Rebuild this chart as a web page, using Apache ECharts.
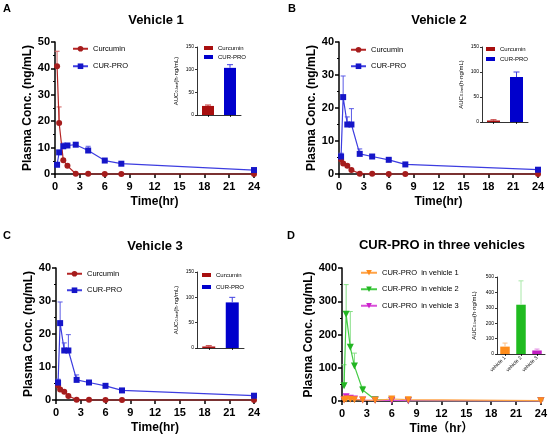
<!DOCTYPE html>
<html><head><meta charset="utf-8">
<script src="https://cdn.jsdelivr.net/npm/echarts@6/dist/echarts.min.js"></script>
<style>html,body{margin:0;padding:0;background:#fff}#c{width:550px;height:441px}</style>
</head><body><div id="c"></div>
<script>
// ---------- data ----------
const times = [0.25, 0.5, 1, 1.5, 2.5, 4, 6, 8, 24];

const curA    = [40.8, 19.3, 5.2, 3.1, 0.1, 0.05, 0, 0, 0];
const curAErr = [5.7, 6.1, 0.5, 0.4, 0.1, 0, 0, 0, 0];
const proA    = [3.5, 8.2, 10.5, 10.8, 11.1, 8.9, 5.1, 3.9, 1.5];
const proAErr = [0.5, 0.6, 1.2, 0.5, 0.5, 1.6, 0.4, 0.4, 0.3];

const curB    = [4.4, 3.2, 2.5, 1.2, 0.1, 0.05, 0, 0, 0];
const curBErr = [0.6, 0.4, 0.4, 0.3, 0.1, 0, 0, 0, 0];
const proB    = [5.3, 23.3, 15.0, 15.0, 6.1, 5.3, 4.3, 2.9, 1.3];
const proBErr = [1.0, 6.4, 2.3, 4.8, 1.5, 0.5, 0.4, 0.3, 0.2];

const curC    = [4.4, 3.2, 2.5, 1.2, 0.1, 0.05, 0, 0, 0];
const curCErr = [0.6, 0.4, 0.4, 0.3, 0.1, 0, 0, 0, 0];
const proC    = [5.3, 23.3, 15.0, 15.0, 6.1, 5.3, 4.3, 2.9, 1.3];
const proCErr = [1.0, 6.4, 2.3, 4.8, 1.5, 0.5, 0.4, 0.3, 0.2];

const v1D    = [3, 6, 5, 4, 3, 2, 6, 4, 1];
const v1DErr = [2, 3, 2, 2, 1, 1, 5, 2, 1];
const v2D    = [46, 261, 162, 105, 33, 4, 2, 1, 0.5];
const v2DErr = [63, 89, 107, 39, 11, 2, 1, 0.5, 0.2];
const v3D    = [4, 13, 8, 6, 3, 2, 1.5, 1, 0.5];
const v3DErr = [2, 4, 3, 2, 1, 1, 0.5, 0.3, 0.2];

const aucCats  = ['Curcumin', 'CUR-PRO'];
const aucA     = [20, 104];
const aucAErr  = [2, 7];
const aucB     = [3, 90];
const aucBErr  = [1.5, 10];
const aucC     = [3, 90];
const aucCErr  = [1.5, 10];
const aucDCats = ['vehicle 1', 'vehicle 2', 'vehicle 3'];
const aucD     = [48, 320, 23];
const aucDErr  = [23, 155, 9];

const xTickInterval = 3;

// ---------- style helpers ----------
const FONT = '"Liberation Sans", Arial, Helvetica, "Noto Sans CJK SC", sans-serif';
const RED = '#A51C1C', RED_L = '#B52525', RED_E = '#D06060';
const BLUE = '#1515C8', BLUE_L = '#3D3DE0', BLUE_E = '#5A5AE6';
const OR = '#FF8C1A', OR_L = '#FFA347', OR_E = '#FFBE80';
const GR = '#22B522', GR_L = '#45CC45', GR_E = '#86DE86';
const MG = '#CC22CC', MG_L = '#D94FD9', MG_E = '#E38AE3';

function mainX(gi, name) {
  return {type:'value', gridIndex:gi, min:0, max:24, interval:xTickInterval,
    name, nameLocation:'middle', nameGap:22,
    nameTextStyle:{fontFamily:FONT, fontWeight:'bold', fontSize:12, color:'#000'},
    axisLine:{show:true, onZero:false, lineStyle:{color:'#000', width:1.5}},
    axisTick:{show:true, length:4, lineStyle:{color:'#000', width:1.5}},
    axisLabel:{fontFamily:FONT, fontWeight:'bold', fontSize:11, color:'#000', margin:7},
    splitLine:{show:false}};
}
function mainY(gi, max, interval, gap) {
  return {type:'value', gridIndex:gi, min:0, max, interval,
    name:'Plasma Conc. (ng/mL)', nameLocation:'middle', nameGap:gap,
    nameTextStyle:{fontFamily:FONT, fontWeight:'bold', fontSize:12, color:'#000'},
    axisLine:{show:true, onZero:false, lineStyle:{color:'#000', width:1.5}},
    axisTick:{show:true, length:4, lineStyle:{color:'#000', width:1.5}},
    minorTick:{show:true, splitNumber:2, length:2, lineStyle:{color:'#000', width:1.2}},
    axisLabel:{fontFamily:FONT, fontWeight:'bold', fontSize:11, color:'#000', margin:5},
    splitLine:{show:false}};
}
function insetX(gi, cats, showLabels) {
  return {type:'category', gridIndex:gi, data:cats,
    axisLine:{show:true, onZero:false, lineStyle:{color:'#000', width:0.8}},
    axisTick:{show:true, alignWithLabel:true, length:2, lineStyle:{color:'#000', width:0.8}},
    axisLabel:{show:showLabels, rotate:45, interval:0, fontFamily:FONT, fontSize:5, color:'#000', margin:3},
    splitLine:{show:false}};
}
function insetY(gi, max, interval, gap) {
  return {type:'value', gridIndex:gi, min:0, max, interval,
    name:'{a|AUC}{b|0-last}{a|(h·ng/mL)}', nameLocation:'middle', nameGap:gap,
    nameTextStyle:{rich:{
      a:{fontFamily:FONT, fontSize:6, color:'#000'},
      b:{fontFamily:FONT, fontSize:4, color:'#000', verticalAlign:'bottom', padding:[2,0,0,0]}}},
    axisLine:{show:true, lineStyle:{color:'#000', width:0.8}},
    axisTick:{show:true, length:2, lineStyle:{color:'#000', width:0.8}},
    axisLabel:{fontFamily:FONT, fontSize:5, color:'#000', margin:3},
    splitLine:{show:false}};
}
function lineS(name, xi, ys, color, lineColor, symbol, size, rot) {
  return {type:'line', name, xAxisIndex:xi, yAxisIndex:xi,
    data: times.map((t,i)=>[t, ys[i]]), symbol, symbolSize:size, symbolRotate:rot||0,
    itemStyle:{color, opacity:1}, lineStyle:{color:lineColor, width:1.2},
    clip:false, z:4, emphasis:{disabled:true}, animation:false};
}
// colors may be a single colour or one colour per point
function errS(xi, xs, ys, es, colors, cap, z) {
  return {type:'custom', xAxisIndex:xi, yAxisIndex:xi, silent:true, clip:false, z:z||3,
    data: xs.map((x,i)=>[x, ys[i], es[i]]), encode:{x:0, y:1},
    renderItem:function(params, api){
      const x = api.value(0), y = api.value(1), e = api.value(2);
      if (!e) return null;
      const color = Array.isArray(colors) ? colors[params.dataIndex] : colors;
      const p0 = api.coord([x, y]), p1 = api.coord([x, y + e]);
      return {type:'group', children:[
        {type:'line', shape:{x1:p0[0], y1:p0[1], x2:p1[0], y2:p1[1]}, style:{stroke:color, lineWidth:1}},
        {type:'line', shape:{x1:p1[0]-cap, y1:p1[1], x2:p1[0]+cap, y2:p1[1]}, style:{stroke:color, lineWidth:1}}
      ]};
    }};
}
function lineLegend(names, left, top, gap, w) {
  return {data:names, left, top, orient:'vertical', itemWidth:w, itemHeight:7, itemGap:gap, padding:0,
    selectedMode:false, formatter:n=>n.split('|')[0],
    textStyle:{fontFamily:FONT, fontSize:7.5, color:'#000'}};
}
function barLegend(names, left, top, gap) {
  return {data:names.map(n=>({name:n, icon:'rect'})), left, top, orient:'vertical', itemWidth:9, itemHeight:4, itemGap:gap, padding:0,
    selectedMode:false, formatter:n=>n.split('|')[0],
    textStyle:{fontFamily:FONT, fontSize:6, color:'#000'}};
}
function barPair(xi, vals, tag, bw) {
  return [
    {type:'bar', name:'Curcumin|'+tag, xAxisIndex:xi, yAxisIndex:xi, data:[vals[0], '-'], barWidth:bw, barGap:'-100%', itemStyle:{color:'#A80F0F'}, z:2, emphasis:{disabled:true}},
    {type:'bar', name:'CUR-PRO|'+tag, xAxisIndex:xi, yAxisIndex:xi, data:['-', vals[1]], barWidth:bw, barGap:'-100%', itemStyle:{color:'#0000CC'}, z:2, emphasis:{disabled:true}}
  ];
}
function titleT(text, left, top) {
  return {text, left, top, textAlign:'center', padding:0,
    textStyle:{fontFamily:FONT, fontWeight:'bold', fontSize:13, color:'#000'}};
}
function letterT(text, left, top) {
  return {text, left, top, padding:0, textStyle:{fontFamily:FONT, fontWeight:'bold', fontSize:11, color:'#000'}};
}
const pairErrColors = ['#C03030', '#4040E0'];

const option = {
  animation:false,
  backgroundColor:'#fff',
  title:[
    letterT('A', 3, 3), letterT('B', 288, 3), letterT('C', 3, 230), letterT('D', 287, 230),
    titleT('Vehicle 1', 156, 14), titleT('Vehicle 2', 439, 14),
    titleT('Vehicle 3', 155, 240), titleT('CUR-PRO in three vehicles', 442, 239)
  ],
  grid:[
    {left:55, top:42, width:199, height:132},
    {left:339, top:42, width:199, height:132},
    {left:56, top:268, width:198, height:132},
    {left:342, top:268, width:200, height:133},
    {left:197, top:47, width:44, height:68},
    {left:482, top:47, width:46, height:75},
    {left:197, top:272, width:47, height:76},
    {left:497, top:277, width:48, height:77}
  ],
  xAxis:[
    mainX(0,'Time(hr)'), mainX(1,'Time(hr)'), mainX(2,'Time(hr)'), mainX(3,'Time（hr）'),
    insetX(4, aucCats, false), insetX(5, aucCats, false), insetX(6, aucCats, false), insetX(7, aucDCats, true)
  ],
  yAxis:[
    mainY(0, 50, 10, 20), mainY(1, 40, 10, 21), mainY(2, 40, 10, 20), mainY(3, 400, 100, 25),
    insetY(4, 150, 50, 18), insetY(5, 150, 50, 18), insetY(6, 150, 50, 18), insetY(7, 500, 100, 20)
  ],
  legend:[
    lineLegend(['Curcumin|A','CUR-PRO|A'], 72, 45, 10, 15),
    lineLegend(['Curcumin|B','CUR-PRO|B'], 350, 46, 9, 15),
    lineLegend(['Curcumin|C','CUR-PRO|C'], 66, 270, 9, 15),
    lineLegend(['CUR-PRO  in vehicle 1|D','CUR-PRO  in vehicle 2|D','CUR-PRO  in vehicle 3|D'], 360, 269, 9, 16),
    barLegend(['Curcumin|ia','CUR-PRO|ia'], 204, 45, 3),
    barLegend(['Curcumin|ib','CUR-PRO|ib'], 486, 46, 4),
    barLegend(['Curcumin|ic','CUR-PRO|ic'], 202, 272, 6)
  ],
  series:[
    // A
    errS(0, times, curA, curAErr, RED_E, 2.5), errS(0, times, proA, proAErr, BLUE_E, 2.5),
    lineS('Curcumin|A', 0, curA, RED, RED_L, 'circle', 6),
    lineS('CUR-PRO|A', 0, proA, BLUE, BLUE_L, 'rect', 6),
    // B
    errS(1, times, curB, curBErr, RED_E, 2.5), errS(1, times, proB, proBErr, BLUE_E, 2.5),
    lineS('Curcumin|B', 1, curB, RED, RED_L, 'circle', 6),
    lineS('CUR-PRO|B', 1, proB, BLUE, BLUE_L, 'rect', 6),
    // C
    errS(2, times, curC, curCErr, RED_E, 2.5), errS(2, times, proC, proCErr, BLUE_E, 2.5),
    lineS('Curcumin|C', 2, curC, RED, RED_L, 'circle', 6),
    lineS('CUR-PRO|C', 2, proC, BLUE, BLUE_L, 'rect', 6),
    // D
    errS(3, times, v2D, v2DErr, GR_E, 2.5), errS(3, times, v3D, v3DErr, MG_E, 2.5), errS(3, times, v1D, v1DErr, OR_E, 2.5),
    lineS('CUR-PRO  in vehicle 2|D', 3, v2D, GR, GR_L, 'triangle', 7, 180),
    lineS('CUR-PRO  in vehicle 3|D', 3, v3D, MG, MG_L, 'triangle', 7, 180),
    lineS('CUR-PRO  in vehicle 1|D', 3, v1D, OR, OR_L, 'triangle', 7, 180),
    // insets
    ...barPair(4, aucA, 'ia', 12), errS(4, [0,1], aucA, aucAErr, pairErrColors, 3, 3),
    ...barPair(5, aucB, 'ib', 13), errS(5, [0,1], aucB, aucBErr, pairErrColors, 3, 3),
    ...barPair(6, aucC, 'ic', 13), errS(6, [0,1], aucC, aucCErr, pairErrColors, 3, 3),
    {type:'bar', xAxisIndex:7, yAxisIndex:7, barWidth:9.5, z:2, emphasis:{disabled:true},
      data: aucD.map((v,i)=>({value:v, itemStyle:{color:[OR, '#20BB20', '#C21FC2'][i]}}))},
    errS(7, [0,1,2], aucD, aucDErr, [OR_E, '#A8E8A8', MG_E], 2.5, 3)
  ]
};
const chart = echarts.init(document.getElementById('c'), null, {renderer:'canvas'});
chart.setOption(option);
</script></body></html>
